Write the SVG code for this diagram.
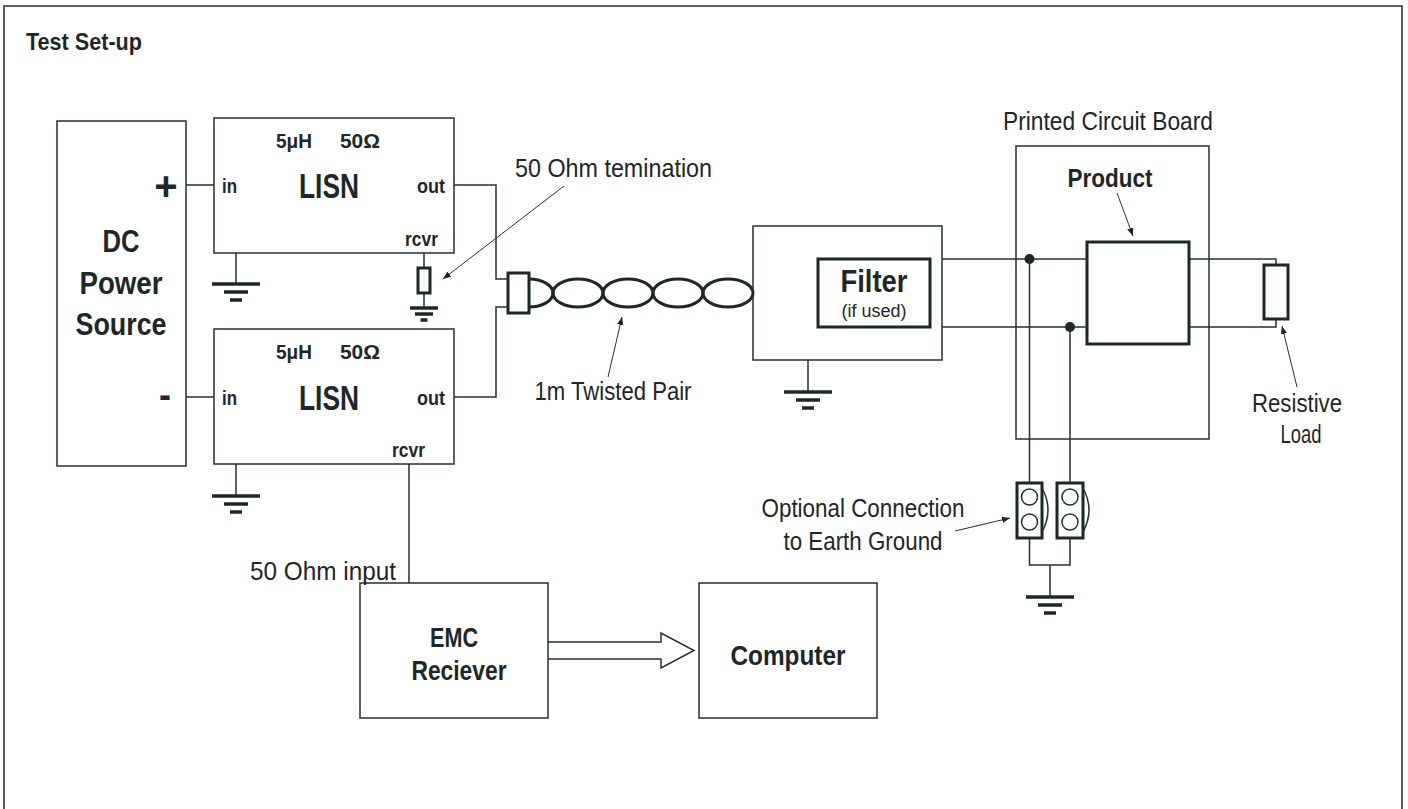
<svg xmlns="http://www.w3.org/2000/svg" width="1408" height="809" viewBox="0 0 1408 809">
<style>
  .ln{fill:none;stroke:#26302f;stroke-width:1.5}
  .thk{fill:none;stroke:#1d2727;stroke-width:3}
  .gb{stroke:#1d2727;stroke-width:3.5}
  .ptr{fill:none;stroke:#26302f;stroke-width:1}
  .dot{fill:#1d2727}
  text{font-family:"Liberation Sans",Arial,sans-serif;fill:#1d2727}
  .b{font-weight:bold}
  .r{font-weight:normal}
  .m{text-anchor:middle}
</style>
<defs>
  <marker id="ah" viewBox="0 0 10 10" refX="10" refY="5" markerWidth="8" markerHeight="8" markerUnits="userSpaceOnUse" orient="auto">
    <path d="M0,1 L10,5 L0,9 Z" fill="#1d2727"/>
  </marker>
  <g id="gnd">
    <line class="gb" x1="-24" y1="0" x2="24" y2="0"/>
    <line class="gb" x1="-12" y1="8" x2="12" y2="8"/>
    <line class="gb" x1="-6" y1="16" x2="6" y2="16"/>
  </g>
</defs>
<rect width="1408" height="809" fill="#ffffff"/>
<path class="ln" d="M4,815 V6 H1402 V815" stroke-width="2"/>
<text class="b" x="26" y="50" font-size="24" textLength="116" lengthAdjust="spacingAndGlyphs">Test Set-up</text>

<g id="dc-power-source">
  <rect class="ln" x="57" y="121" width="129" height="345"/>
  <text class="b m" x="121" y="252" font-size="31" textLength="37" lengthAdjust="spacingAndGlyphs">DC</text>
  <text class="b m" x="121" y="294" font-size="31" textLength="83" lengthAdjust="spacingAndGlyphs">Power</text>
  <text class="b m" x="121" y="335" font-size="31" textLength="91" lengthAdjust="spacingAndGlyphs">Source</text>
  <text class="b m" x="166" y="200" font-size="40">+</text>
  <text class="b m" x="165" y="407" font-size="36">-</text>
</g>

<g id="lisn-top">
  <rect class="ln" x="214" y="118" width="240" height="135"/>
  <text class="b" x="276" y="148" font-size="20" textLength="36" lengthAdjust="spacingAndGlyphs">5μH</text>
  <text class="b" x="340" y="148" font-size="20" textLength="40" lengthAdjust="spacingAndGlyphs">50Ω</text>
  <text class="b" x="222" y="193" font-size="21" textLength="15" lengthAdjust="spacingAndGlyphs">in</text>
  <text class="b" x="299" y="198" font-size="35" textLength="60" lengthAdjust="spacingAndGlyphs">LISN</text>
  <text class="b" x="417" y="193" font-size="21" textLength="28" lengthAdjust="spacingAndGlyphs">out</text>
  <text class="b" x="405" y="246" font-size="20" textLength="33" lengthAdjust="spacingAndGlyphs">rcvr</text>
</g>

<g id="lisn-bottom">
  <rect class="ln" x="214" y="329" width="240" height="135"/>
  <text class="b" x="276" y="359" font-size="20" textLength="36" lengthAdjust="spacingAndGlyphs">5μH</text>
  <text class="b" x="340" y="359" font-size="20" textLength="40" lengthAdjust="spacingAndGlyphs">50Ω</text>
  <text class="b" x="222" y="405" font-size="21" textLength="15" lengthAdjust="spacingAndGlyphs">in</text>
  <text class="b" x="299" y="410" font-size="35" textLength="60" lengthAdjust="spacingAndGlyphs">LISN</text>
  <text class="b" x="417" y="405" font-size="21" textLength="28" lengthAdjust="spacingAndGlyphs">out</text>
  <text class="b" x="392" y="457" font-size="20" textLength="33" lengthAdjust="spacingAndGlyphs">rcvr</text>
</g>

<g id="termination">
  <rect class="thk" x="418" y="268" width="12" height="25" stroke-width="2.5"/>
  <text class="r" x="515" y="177" font-size="26" textLength="197" lengthAdjust="spacingAndGlyphs">50 Ohm temination</text>
</g>

<g id="twisted-pair">
  <rect class="thk" x="508" y="273" width="21" height="40" stroke-width="2.5"/>
  <path class="thk" stroke-width="2.5" d="M529,279 A24,14 0 0 1 553,293 A24,14 0 0 1 529,307"/>
  <ellipse class="thk" stroke-width="2.5" cx="578" cy="293" rx="25" ry="14"/>
  <ellipse class="thk" stroke-width="2.5" cx="628" cy="293" rx="25" ry="14"/>
  <ellipse class="thk" stroke-width="2.5" cx="678" cy="293" rx="25" ry="14"/>
  <ellipse class="thk" stroke-width="2.5" cx="728" cy="293" rx="25" ry="14"/>
  <text class="r m" x="613" y="400" font-size="26" textLength="157" lengthAdjust="spacingAndGlyphs">1m Twisted Pair</text>
</g>

<g id="filter">
  <rect class="ln" x="753" y="226" width="189" height="134"/>
  <rect class="thk" x="818" y="259" width="112" height="68"/>
  <text class="b m" x="874" y="292" font-size="31" textLength="67" lengthAdjust="spacingAndGlyphs">Filter</text>
  <text class="r m" x="874" y="317" font-size="18" textLength="65" lengthAdjust="spacingAndGlyphs">(if used)</text>
</g>

<g id="pcb">
  <rect class="ln" x="1016" y="146" width="193" height="293"/>
  <text class="r m" x="1108" y="130" font-size="26" textLength="210" lengthAdjust="spacingAndGlyphs">Printed Circuit Board</text>
</g>

<g id="product">
  <rect class="thk" x="1087" y="242" width="102" height="102"/>
  <text class="b m" x="1110" y="187" font-size="26" textLength="85" lengthAdjust="spacingAndGlyphs">Product</text>
</g>

<g id="resistive-load">
  <rect class="thk" x="1264" y="265" width="24" height="54"/>
  <text class="r m" x="1297" y="412" font-size="26" textLength="90" lengthAdjust="spacingAndGlyphs">Resistive</text>
  <text class="r m" x="1301" y="443" font-size="26" textLength="41" lengthAdjust="spacingAndGlyphs">Load</text>
</g>

<g id="earth-jumpers">
  <rect class="thk" x="1017" y="483" width="25" height="55"/>
  <circle class="ln" cx="1029.5" cy="497" r="8"/>
  <circle class="ln" cx="1029.5" cy="522" r="8"/>
  <path class="ln" d="M1042,488 Q1054,510 1042,532"/>
  <rect class="thk" x="1057" y="483" width="26" height="55"/>
  <circle class="ln" cx="1070" cy="497" r="8"/>
  <circle class="ln" cx="1070" cy="522" r="8"/>
  <path class="ln" d="M1083,488 Q1095,510 1083,532"/>
  <text class="r m" x="863" y="517" font-size="26" textLength="203" lengthAdjust="spacingAndGlyphs">Optional Connection</text>
  <text class="r m" x="863" y="550" font-size="26" textLength="159" lengthAdjust="spacingAndGlyphs">to Earth Ground</text>
</g>

<g id="emc-receiver">
  <rect class="ln" x="360" y="583" width="188" height="135"/>
  <text class="b m" x="454" y="647" font-size="28" textLength="48" lengthAdjust="spacingAndGlyphs">EMC</text>
  <text class="b m" x="459" y="680" font-size="28" textLength="95" lengthAdjust="spacingAndGlyphs">Reciever</text>
  <text class="r" x="396" y="580" font-size="26" text-anchor="end" textLength="146" lengthAdjust="spacingAndGlyphs">50 Ohm input</text>
</g>

<g id="computer">
  <rect class="ln" x="699" y="583" width="178" height="135"/>
  <text class="b m" x="788" y="665" font-size="28" textLength="115" lengthAdjust="spacingAndGlyphs">Computer</text>
</g>

<g id="grounds">
  <line class="ln" x1="236" y1="253" x2="236" y2="284"/>
  <use href="#gnd" x="236" y="284"/>
  <line class="ln" x1="236" y1="464" x2="236" y2="496"/>
  <use href="#gnd" x="236" y="496"/>
  <line class="ln" x1="808" y1="360" x2="808" y2="392"/>
  <use href="#gnd" x="808" y="392"/>
  <line class="ln" x1="1050" y1="565" x2="1050" y2="597"/>
  <use href="#gnd" x="1050" y="597"/>
  <g transform="translate(424,308)">
    <line class="gb" stroke-width="2.5" x1="-14" y1="0" x2="14" y2="0"/>
    <line class="gb" stroke-width="2.5" x1="-9" y1="6" x2="9" y2="6"/>
    <line class="gb" stroke-width="2.5" x1="-3.5" y1="12" x2="3.5" y2="12"/>
  </g>
</g>

<g id="connectors">
  <line class="ln" x1="186" y1="185" x2="214" y2="185"/>
  <line class="ln" x1="186" y1="397" x2="214" y2="397"/>
  <path class="ln" d="M454,185 H496 V279 H508"/>
  <path class="ln" d="M454,397 H496 V307 H508"/>
  <path class="ln" d="M424,253 V268 M424,293 V308"/>
  <line class="ln" x1="409" y1="464" x2="409" y2="583"/>
  <path class="ln" d="M942,259 H1087 M942,327 H1087"/>
  <path class="ln" d="M1189,259 H1276 V265 M1189,327 H1276 V319"/>
  <path class="ln" d="M1029.5,259 V483 M1070,327 V483"/>
  <circle class="dot" cx="1029.5" cy="259" r="5"/>
  <circle class="dot" cx="1070" cy="327" r="5"/>
  <path class="ln" d="M1029.5,538 V565 H1070 V538"/>
  <path class="ln" d="M548,642 H661 V633 L694,650.5 L661,668 V659 H548"/>
  <line class="ptr" x1="564" y1="186" x2="443" y2="279" marker-end="url(#ah)"/>
  <line class="ptr" x1="608" y1="377" x2="622" y2="317" marker-end="url(#ah)"/>
  <line class="ptr" x1="1117" y1="193" x2="1133" y2="236" marker-end="url(#ah)"/>
  <line class="ptr" x1="1297" y1="387" x2="1282" y2="326" marker-end="url(#ah)"/>
  <line class="ptr" x1="955" y1="531" x2="1010" y2="518" marker-end="url(#ah)"/>
</g>
</svg>
